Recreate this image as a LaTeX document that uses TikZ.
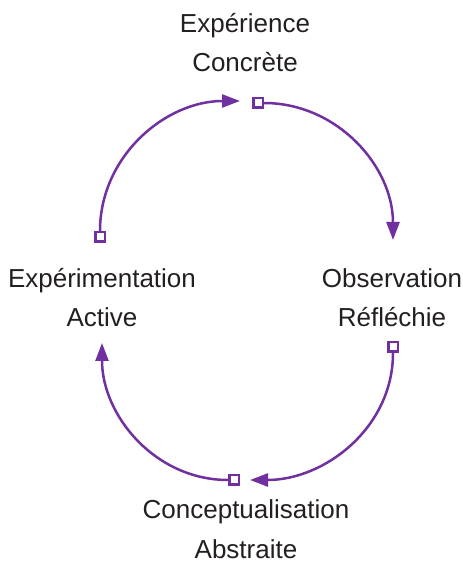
\documentclass[tikz,border=0pt]{standalone}
\usepackage{fontspec}
\setmainfont{Liberation Sans}
\usetikzlibrary{arrows.meta}
\definecolor{cyclepurple}{RGB}{112,48,160}
\definecolor{stageink}{RGB}{35,31,32}
\tikzset{
  stage/.style={align=center,inner sep=0pt,text=stageink,font=\fontsize{26}{39}\selectfont},
  port/.style={draw=cyclepurple,fill=white,line width=2.5pt,minimum size=9.5pt,inner sep=0pt},
  flow/.style={draw=cyclepurple,line width=2.5pt,-{Triangle[length=18pt,width=13pt]}}
}
\begin{document}
\begin{tikzpicture}[x=1pt,y=1pt]
\useasboundingbox (0,0) rectangle (463,563);
\node [stage,anchor=base] (exp) at (245,491) {Expérience\\Concrète};
\node [stage,anchor=base] (obs) at (392,236) {Observation\\Réfléchie};
\node [stage,anchor=base] (con) at (246,5) {Conceptualisation\\Abstraite};
\node [stage,anchor=base] (act) at (102,236) {Expérimentation\\Active};
\node [port] (p1) at (258,460) {};
\node [port] (p2) at (393,216) {};
\node [port] (p3) at (234,83) {};
\node [port] (p4) at (100,326) {};
\coordinate (t1) at (393,323);
\coordinate (t2) at (250,83);
\coordinate (t3) at (102,220);
\coordinate (t4) at (240,462);
\draw [flow] (p1.east) to [out=0, in=90] (t1);
\draw [flow] (p2.south) to [out=-90, in=0] (t2);
\draw [flow] (p3.west) to [out=180, in=-90] (t3);
\draw [flow] (p4.north) to [out=90, in=180] (t4);
\end{tikzpicture}
\end{document}
